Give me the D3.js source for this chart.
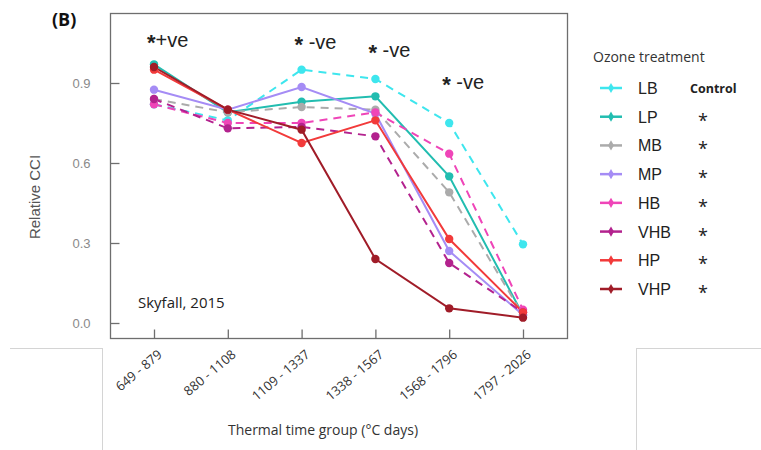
<!DOCTYPE html>
<html>
<head>
<meta charset="utf-8">
<script src="https://cdn.jsdelivr.net/npm/d3@7"></script>
<style>
  body { margin: 0; background: #fff; }
  svg { display: block; font-family: Arial, "Liberation Sans", sans-serif; }
</style>
</head>
<body>
<div id="chart"></div>
<script>
// Data
const groups = ['649 - 879', '880 - 1108', '1109 - 1337', '1338 - 1567', '1568 - 1796', '1797 - 2026'];
const treatments = ['LB', 'LP', 'MB', 'MP', 'HB', 'VHB', 'HP', 'VHP'];
const lb = [0.82, 0.76, 0.95, 0.915, 0.75, 0.295];
const lp = [0.97, 0.79, 0.83, 0.85, 0.55, 0.03];
const mb = [0.84, 0.79, 0.81, 0.80, 0.49, 0.03];
const mp = [0.875, 0.80, 0.885, 0.785, 0.27, 0.03];
const hb = [0.82, 0.75, 0.75, 0.79, 0.635, 0.05];
const vhb = [0.84, 0.73, 0.735, 0.70, 0.225, 0.04];
const hp = [0.95, 0.80, 0.675, 0.76, 0.315, 0.04];
const vhp = [0.96, 0.80, 0.725, 0.24, 0.055, 0.02];
const significance = ['Control', '*', '*', '*', '*', '*', '*', '*'];
const yTicks = [0, 0.3, 0.6, 0.9];
const notes = [
  { group: 0, value: 1.07, text: '+ve' },
  { group: 2, value: 1.06, text: ' -ve' },
  { group: 3, value: 1.03, text: ' -ve' },
  { group: 4, value: 0.91, text: ' -ve' },
];

const colors = ['#3ee6ee', '#22bdb0', '#ababab', '#a58cf5', '#ef45b8', '#b3228e', '#f23a3a', '#a01c28'];
const dashed = [true, false, true, false, true, true, false, false];
const values = [lb, lp, mb, mp, hb, vhb, hp, vhp];

const W = 761;
const H = 450;
const box = { left: 110, right: 567, top: 13, bottom: 338 };

const svg = d3.select('#chart')
  .append('svg')
  .attr('width', W)
  .attr('height', H);

// light frame lines of the surrounding layout
const frame = svg.append('g').attr('stroke', '#d4d4d4').attr('stroke-width', 1);
frame.append('line').attr('x1', 10).attr('x2', 103).attr('y1', 348.5).attr('y2', 348.5);
frame.append('line').attr('x1', 636).attr('x2', 761).attr('y1', 348.5).attr('y2', 348.5);
frame.append('line').attr('x1', 102.5).attr('x2', 102.5).attr('y1', 348).attr('y2', 450);
frame.append('line').attr('x1', 636.5).attr('x2', 636.5).attr('y1', 348).attr('y2', 450);

// scales
const x = d3.scalePoint()
  .domain(groups)
  .range([154, 523]);
const y = d3.scaleLinear()
  .domain([0, 0.9])
  .range([323, 83]);

// box
svg.append('rect')
  .attr('x', box.left + 0.5)
  .attr('y', box.top + 0.5)
  .attr('width', box.right - box.left)
  .attr('height', box.bottom - box.top)
  .attr('fill', 'none')
  .attr('stroke', '#6e6e6e')
  .attr('stroke-width', 1.3);

// y axis (ticks inside)
const yAxis = svg.append('g')
  .attr('transform', `translate(${box.left + 0.5},0)`)
  .call(d3.axisRight(y).tickValues(yTicks).tickFormat(d3.format('.1f')).tickSize(9));
yAxis.select('.domain').remove();
yAxis.selectAll('.tick line').attr('stroke', '#6e6e6e').attr('stroke-width', 1.3);
yAxis.selectAll('.tick text')
  .attr('x', -20)
  .attr('text-anchor', 'end')
  .attr('fill', '#8a8a8a')
  .style('font-size', '13px');

// x axis (ticks inside)
const xAxis = svg.append('g')
  .attr('transform', `translate(0,${box.bottom + 0.5})`)
  .call(d3.axisTop(x).tickSize(9));
xAxis.select('.domain').remove();
xAxis.selectAll('.tick line').attr('stroke', '#6e6e6e').attr('stroke-width', 1.3);
xAxis.selectAll('.tick text').remove();

// rotated x labels
svg.append('g')
  .selectAll('text')
  .data(groups)
  .join('text')
  .attr('transform', (d) => `translate(${x(d) + 9},${box.bottom + 18}) rotate(-40)`)
  .attr('text-anchor', 'end')
  .attr('fill', '#333')
  .style('font-family', '"Open Sans", sans-serif')
  .style('font-size', '13px')
  .text((d) => d);

// series
const line = d3.line()
  .x((d, i) => x(groups[i]))
  .y((d) => y(d));

values.forEach((vals, k) => {
  svg.append('path')
    .datum(vals)
    .attr('fill', 'none')
    .attr('stroke', colors[k])
    .attr('stroke-width', 2)
    .attr('stroke-dasharray', dashed[k] ? '8,6' : null)
    .attr('d', line);
});
values.forEach((vals, k) => {
  svg.append('g')
    .selectAll('circle')
    .data(vals)
    .join('circle')
    .attr('cx', (d, i) => x(groups[i]))
    .attr('cy', (d) => y(d))
    .attr('r', 4.2)
    .attr('fill', colors[k]);
});

// significance notes
const note = svg.append('g')
  .selectAll('text')
  .data(notes)
  .join('text')
  .attr('x', (d) => x(groups[d.group]) - 7)
  .attr('y', (d) => y(d.value) + 9)
  .attr('fill', '#222')
  .style('font-size', '20px');
note.append('tspan')
  .attr('font-weight', 'bold')
  .style('font-size', '22px')
  .attr('dy', 3)
  .text('*');
note.append('tspan')
  .attr('dy', -3)
  .text((d) => d.text);

// site label
svg.append('text')
  .attr('x', 138)
  .attr('y', 308)
  .attr('fill', '#222')
  .style('font-family', '"Open Sans", sans-serif')
  .style('font-size', '15px')
  .text('Skyfall, 2015');

// panel letter
svg.append('text')
  .attr('x', 52)
  .attr('y', 26)
  .attr('font-weight', 'bold')
  .attr('fill', '#111')
  .style('font-family', '"Open Sans", sans-serif')
  .style('font-size', '18px')
  .text('(B)');

// axis titles
svg.append('text')
  .attr('transform', 'translate(40,197) rotate(-90)')
  .attr('text-anchor', 'middle')
  .attr('fill', '#555')
  .style('font-size', '15px')
  .text('Relative CCI');
svg.append('text')
  .attr('x', 323)
  .attr('y', 435)
  .attr('text-anchor', 'middle')
  .attr('fill', '#333')
  .style('font-family', '"Open Sans", sans-serif')
  .style('font-size', '14px')
  .text('Thermal time group (°C days)');

// legend
const legend = svg.append('g');
legend.append('text')
  .attr('x', 593)
  .attr('y', 62)
  .attr('fill', '#333')
  .style('font-family', '"Open Sans", sans-serif')
  .style('font-size', '14px')
  .text('Ozone treatment');

const rowY = d3.scalePoint().domain(treatments).range([88, 289]);
const rows = legend.selectAll('g.row')
  .data(treatments)
  .join('g')
  .attr('class', 'row')
  .attr('transform', (d) => `translate(0,${rowY(d)})`);
rows.append('line')
  .attr('x1', 600)
  .attr('x2', 622)
  .attr('stroke', (d, i) => colors[i])
  .attr('stroke-width', 2.5);
rows.append('path')
  .attr('transform', 'translate(611,0)')
  .attr('d', d3.symbol(d3.symbolDiamond, 30))
  .attr('fill', (d, i) => colors[i]);
rows.append('text')
  .attr('x', 638)
  .attr('y', 6)
  .attr('fill', '#222')
  .style('font-size', '16px')
  .text((d) => d);
rows.append('text')
  .attr('x', (d, i) => (significance[i] === 'Control' ? 690 : 703))
  .attr('y', (d, i) => (significance[i] === 'Control' ? 5 : 10))
  .attr('text-anchor', (d, i) => (significance[i] === 'Control' ? 'start' : 'middle'))
  .attr('font-weight', (d, i) => (significance[i] === 'Control' ? 'bold' : 'normal'))
  .attr('fill', '#222')
  .style('font-family', '"Open Sans", sans-serif')
  .style('font-size', (d, i) => (significance[i] === 'Control' ? '12.5px' : '18px'))
  .text((d, i) => significance[i]);
</script>
</body>
</html>
